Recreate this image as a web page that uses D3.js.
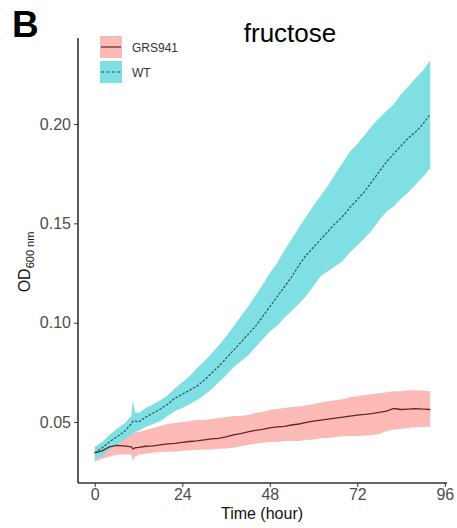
<!DOCTYPE html>
<html><head><meta charset="utf-8">
<script src="https://cdn.jsdelivr.net/npm/d3@7"></script>
<style>body{margin:0;background:#fff}svg{display:block}</style>
</head><body>
<svg id="c" width="457" height="528"></svg>
<script>
const times = [0,2,4,6,8,10,10.5,11,12,14,16,18,20,22,24,26,28,30,32,34,36,38,40,42,44,46,48,50,52,54,56,58,60,62,64,66,68,70,72,74,76,78,80,82,84,86,88,90,92];

const wtMean = [0.0345,0.037,0.040,0.0425,0.045,0.049,0.0505,0.0505,0.050,0.0525,0.0545,0.0565,0.059,0.062,0.064,0.066,0.068,0.071,0.0745,0.078,0.082,0.086,0.090,0.094,0.098,0.103,0.108,0.113,0.118,0.123,0.129,0.134,0.138,0.142,0.146,0.150,0.1535,0.158,0.162,0.166,0.171,0.176,0.181,0.185,0.189,0.193,0.196,0.200,0.205];
const wtUpper = [0.0376,0.040,0.0435,0.0465,0.049,0.053,0.061,0.055,0.0545,0.057,0.059,0.061,0.0635,0.067,0.070,0.073,0.077,0.0805,0.0845,0.0885,0.093,0.098,0.103,0.108,0.1135,0.119,0.125,0.130,0.1365,0.142,0.148,0.1535,0.159,0.164,0.169,0.175,0.1805,0.186,0.190,0.1945,0.199,0.203,0.2065,0.210,0.215,0.219,0.223,0.227,0.232];
const wtLower = [0.0309,0.033,0.036,0.0385,0.041,0.0435,0.044,0.045,0.0455,0.0475,0.049,0.0505,0.053,0.0555,0.057,0.059,0.061,0.0635,0.0665,0.070,0.0735,0.0775,0.0805,0.0835,0.0875,0.0915,0.0955,0.0985,0.1025,0.106,0.1095,0.1135,0.1185,0.1235,0.126,0.1285,0.131,0.1355,0.139,0.1425,0.1465,0.1515,0.156,0.1585,0.1625,0.1655,0.1695,0.1735,0.1777];

const grsMean = [0.0345,0.0355,0.0375,0.0382,0.0380,0.0375,0.0365,0.0370,0.0372,0.0378,0.038,0.0385,0.039,0.0392,0.0398,0.0402,0.0405,0.041,0.0415,0.0418,0.0425,0.0435,0.0442,0.045,0.0458,0.0463,0.047,0.0476,0.0478,0.0485,0.049,0.0498,0.0505,0.051,0.0515,0.052,0.0525,0.053,0.0535,0.0538,0.0542,0.0548,0.0555,0.0568,0.0563,0.0565,0.0567,0.0565,0.0563];
const grsUpper = [0.0375,0.039,0.0405,0.042,0.043,0.0445,0.0445,0.0448,0.045,0.046,0.047,0.048,0.049,0.0495,0.050,0.0505,0.051,0.051,0.0515,0.052,0.0525,0.053,0.053,0.0535,0.0545,0.055,0.056,0.0565,0.057,0.0575,0.0578,0.0585,0.059,0.0598,0.0605,0.061,0.0615,0.0625,0.063,0.0636,0.064,0.0645,0.065,0.0655,0.0655,0.066,0.066,0.0658,0.0655];
const grsLower = [0.030,0.0315,0.0325,0.0335,0.0338,0.0335,0.0305,0.0325,0.0335,0.034,0.0345,0.035,0.035,0.0352,0.0355,0.0358,0.036,0.036,0.0362,0.0365,0.0367,0.037,0.0378,0.0384,0.039,0.0395,0.040,0.040,0.0405,0.0405,0.0405,0.041,0.0412,0.0418,0.042,0.0425,0.0428,0.043,0.043,0.0432,0.0435,0.044,0.0455,0.0462,0.0465,0.047,0.0475,0.0475,0.0476];

const xTicks = [0,24,48,72,96];
const yTicks = [0.05,0.10,0.15,0.20];
const seriesNames = ["GRS941","WT"];

const svg = d3.select("#c");
const x = d3.scaleLinear().domain([-4.6,96.6]).range([78,447]);
const y = d3.scaleLinear().domain([0.0193,0.2433]).range([483,38]);

const font = "'Liberation Sans', Arial, sans-serif";
const fills = {GRS941:"#FBBAB6", WT:"#80DFE2"};
const lineCols = {GRS941:"#5e2826", WT:"#1d4f52"};

function build(mean, lo, hi){ return times.map((t,i)=>({t, m:mean[i], lo:lo[i], hi:hi[i]})); }
const series = [
  {name:"GRS941", data:build(grsMean,grsLower,grsUpper), dash:null, w:1.3},
  {name:"WT", data:build(wtMean,wtLower,wtUpper), dash:"2.5,1.5", w:1.1}
];

const area = d3.area().x(d=>x(d.t)).y0(d=>y(d.lo)).y1(d=>y(d.hi));
const line = d3.line().x(d=>x(d.t)).y(d=>y(d.m));

series.forEach(s=>{
  svg.append("path").attr("d",area(s.data)).attr("fill",fills[s.name]);
});
series.forEach(s=>{
  svg.append("path").attr("d",line(s.data)).attr("fill","none")
    .attr("stroke",lineCols[s.name]).attr("stroke-width",s.w)
    .attr("stroke-dasharray",s.dash);
});

// axes
const yAxis = d3.axisLeft(y).tickValues(yTicks).tickFormat(d3.format(".2f")).tickSize(4).tickPadding(3);
const gy = svg.append("g").attr("transform","translate(78,0)").call(yAxis);
gy.select(".domain").attr("d","M0,38V483").attr("stroke","#333").attr("stroke-width",1.6);
gy.selectAll(".tick line").attr("stroke","#333");
gy.selectAll(".tick text").attr("fill","#4d4d4d").style("font-family",font).style("font-size","16px");

const xAxis = d3.axisBottom(x).tickValues(xTicks).tickSize(4).tickPadding(2);
const gx = svg.append("g").attr("transform","translate(0,483)").call(xAxis);
gx.select(".domain").attr("d","M78,0H447").attr("stroke","#333").attr("stroke-width",1.6);
gx.selectAll(".tick line").attr("stroke","#333");
gx.selectAll(".tick text").attr("fill","#4d4d4d").style("font-family",font).style("font-size","16px");

// titles
svg.append("text").attr("x",262).attr("y",519).attr("text-anchor","middle")
  .style("font-family",font).style("font-size","16px").attr("fill","#111").text("Time (hour)");

const yt = svg.append("text").attr("transform","translate(30,262) rotate(-90)").attr("text-anchor","middle")
  .style("font-family",font).attr("fill","#111");
yt.append("tspan").style("font-size","16px").text("OD");
yt.append("tspan").style("font-size","11px").attr("dy",4).text("600 nm");

svg.append("text").attr("x",290).attr("y",42).attr("text-anchor","middle")
  .style("font-family",font).style("font-size","26px").attr("fill","#000").text("fructose");

svg.append("text").attr("x",12).attr("y",37)
  .style("font-family",font).style("font-size","37px").style("font-weight","bold").attr("fill","#000").text("B");

// legend
const leg = svg.append("g");
seriesNames.forEach((n,i)=>{
  const s = series.find(d=>d.name===n);
  const ky = 36 + i*25;
  leg.append("rect").attr("x",100).attr("y",ky).attr("width",22).attr("height",22).attr("fill",fills[n]);
  leg.append("line").attr("x1",101).attr("x2",121).attr("y1",ky+11).attr("y2",ky+11)
    .attr("stroke",lineCols[n]).attr("stroke-width",1.2).attr("stroke-dasharray",s.dash ? "3,2.5" : null);
  leg.append("text").attr("x",132).attr("y",ky+15.5).style("font-family",font).style("font-size","12px")
    .attr("fill","#333").text(n);
});
</script>
</body></html>
